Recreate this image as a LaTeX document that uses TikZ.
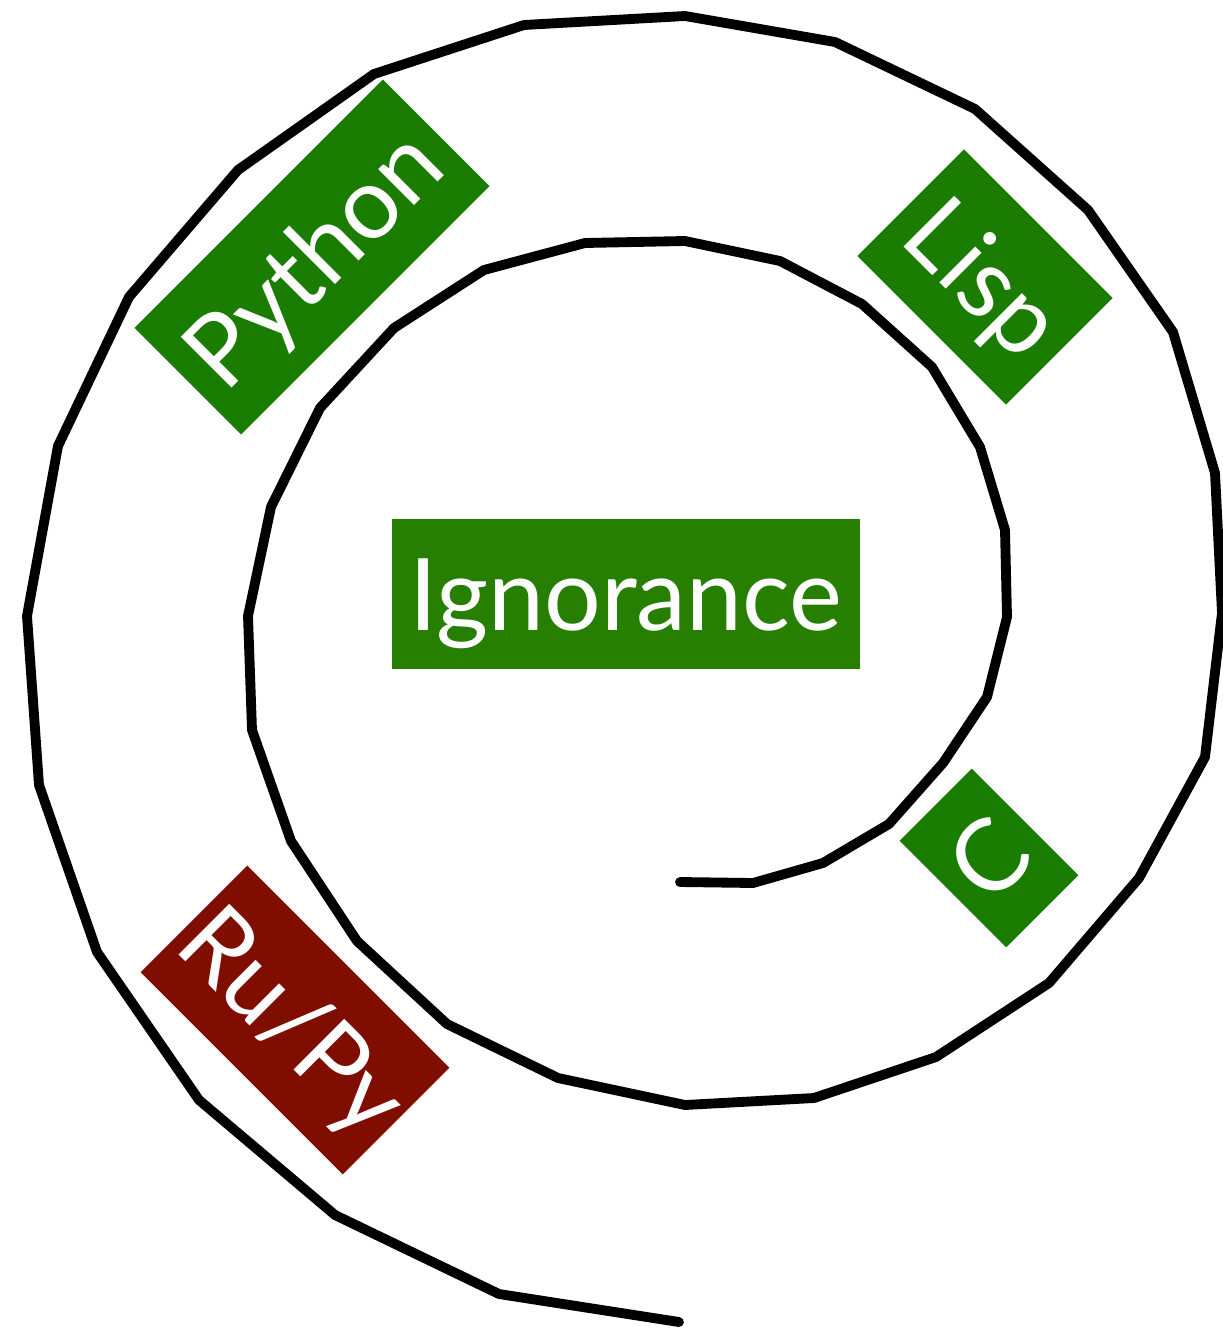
\documentclass[tikz,border=0pt]{standalone}
\usepackage{fontspec}
\setmainfont{Lato}
\usepackage{tikz}
\definecolor{boxgreen}{RGB}{38,127,0}
\definecolor{taggreen}{RGB}{26,124,0}
\definecolor{tagred}{RGB}{127,14,0}
\tikzstyle{langtag} = [fill=taggreen, text=white, font=\fontsize{57}{60}\selectfont, text height=41pt, text depth=0pt, minimum height=85.9pt, inner xsep=10pt, inner ysep=0pt]
\tikzstyle{spiral} = [line width=5.6pt, line cap=round, line join=round]

\begin{document}
\begin{tikzpicture}[x=0.02cm, y=-0.02cm]
	\useasboundingbox (0,0) rectangle (1223,1332);
	% the spiral, from its inner end outwards
	\draw[spiral] (680,882) -- (753,883) -- (823,863) -- (889,824) -- (943,763) -- (987,697) -- (1007,617) -- (1005,530) -- (980,447) -- (932,367) -- (862,304) -- (780,261) -- (685,241) -- (585,243) -- (484,270) -- (394,328) -- (320,408) -- (271,507) -- (248,616) -- (252,730) -- (291,841) -- (357,941) -- (447,1024) -- (558,1078) -- (685,1105) -- (814,1098) -- (936,1057) -- (1049,983) -- (1139,878) -- (1205,757) -- (1222,613) -- (1215,473) -- (1173,332) -- (1088,210) -- (975,109) -- (835,42) -- (685,16) -- (524,25) -- (374,74) -- (238,170) -- (129,297) -- (58,446) -- (27,616) -- (39,785) -- (97,952) -- (199,1100) -- (335,1215) -- (499,1294) -- (679,1322);
	\node[langtag, fill=boxgreen, minimum width=266.3pt] (ignorance) at (626,594) {Ignorance};
	\node[langtag, rotate=45, minimum width=192.9pt] (python) at (312,257) {Python};
	\node[langtag, rotate=-45, minimum width=114.9pt] (lisp) at (985,277) {Lisp};
	\node[langtag, rotate=45, minimum width=58pt] (clang) at (989,858) {C};
	\node[langtag, rotate=-45, fill=tagred, inner xsep=2pt, minimum width=162.7pt] (rupy) at (295,1020) {Ru/Py};
\end{tikzpicture}
\end{document}
